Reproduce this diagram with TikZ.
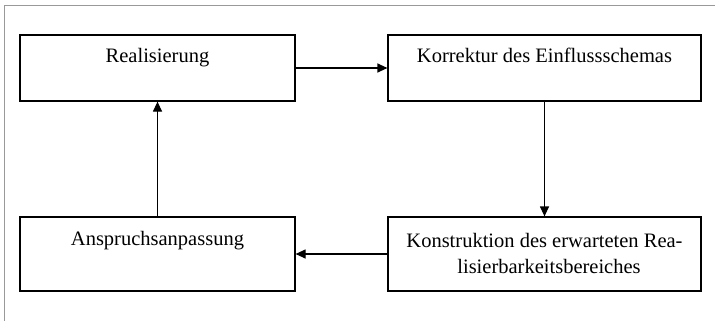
\documentclass[tikz,border=0pt]{standalone}
\usepackage{fontspec}
\setmainfont{Liberation Serif}
\usetikzlibrary{arrows.meta}
\begin{document}
\begin{tikzpicture}[x=1pt,y=-1pt,
  box/.style={draw=black, line width=1.2pt, rectangle, inner sep=0pt},
  txt/.style={font=\fontsize{20.5}{26}\selectfont, inner sep=0pt, align=center, anchor=base},
  conn/.style={draw=black, line width=1.2pt, -{Triangle[length=10pt,width=9pt]}},
  frame/.style={draw=black!40, line width=1.4pt}]
\useasboundingbox (0,0) rectangle (715,321);
\coordinate (fa) at (4.5,321);
\coordinate (fb) at (4.5,5.5);
\coordinate (fc) at (715,5.5);
\draw[frame] (fa) -- (fb) -- (fc);
\node[box, minimum width=275pt, minimum height=66pt] (b1) at (157.5,68) {};
\node[box, minimum width=313pt, minimum height=66pt] (b2) at (544.5,68) {};
\node[box, minimum width=275pt, minimum height=74pt] (b3) at (157.5,254) {};
\node[box, minimum width=313pt, minimum height=74pt] (b4) at (544.5,254) {};
\node[txt] (t1) at (157.5,63) {Realisierung};
\node[txt] (t2) at (544.5,63) {Korrektur des Einflussschemas};
\node[txt] (t3) at (157.5,245) {Anspruchsanpassung};
\node[txt] (t4a) at (544.5,247) {Konstruktion des erwarteten Rea-};
\node[txt] (t4b) at (549,273) {lisierbarkeitsbereiches};
\draw[conn] (b1.east) -- (b2.west);
\draw[conn] (b2.south) -- (b4.north);
\draw[conn] (b4.west) -- (b3.east);
\draw[conn] (b3.north) -- (b1.south);
\end{tikzpicture}
\end{document}
